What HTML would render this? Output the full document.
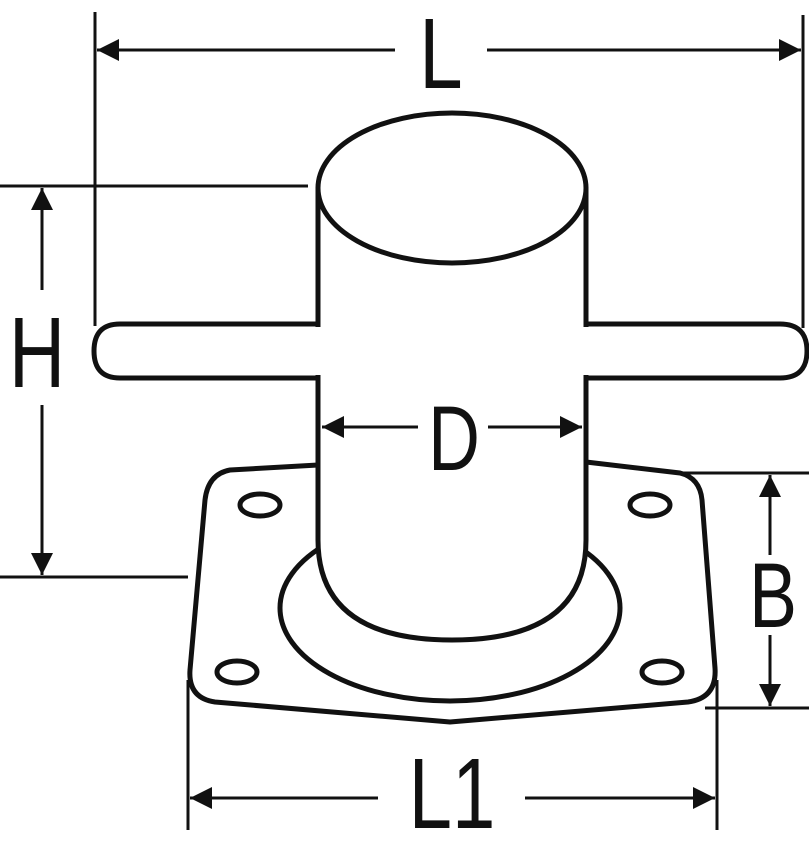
<!DOCTYPE html>
<html><head><meta charset="utf-8"><style>
html,body{margin:0;padding:0;background:#fff;}
svg{display:block;}
text{font-family:"Liberation Sans",sans-serif;fill:#111;}
</style></head><body>
<svg width="809" height="853" viewBox="0 0 809 853" xmlns="http://www.w3.org/2000/svg">
<defs>
<marker id="b" viewBox="0 0 10 10" refX="10" refY="5" markerWidth="46" markerHeight="22" markerUnits="userSpaceOnUse" orient="auto-start-reverse">
<path d="M0,0 L10,5 L0,10 z" fill="#111"/></marker>
</defs>
<g stroke="#111" stroke-width="3" fill="none">
<line x1="95" y1="12" x2="95" y2="326"/>
<line x1="803" y1="15" x2="803" y2="328"/>
<line x1="97" y1="50" x2="395" y2="50" marker-start="url(#b)"/>
<line x1="487" y1="50" x2="801" y2="50" marker-end="url(#b)"/>
<line x1="0" y1="186" x2="308" y2="186"/>
<line x1="0" y1="577" x2="188" y2="577"/>
<line x1="42" y1="188" x2="42" y2="290" marker-start="url(#b)"/>
<line x1="42" y1="405" x2="42" y2="575" marker-end="url(#b)"/>
<line x1="662" y1="473" x2="809" y2="473"/>
<line x1="705" y1="708" x2="809" y2="708"/>
<line x1="770" y1="475" x2="770" y2="555" marker-start="url(#b)"/>
<line x1="770" y1="635" x2="770" y2="706" marker-end="url(#b)"/>
<line x1="188" y1="680" x2="188" y2="830"/>
<line x1="717" y1="680" x2="717" y2="830"/>
<line x1="190" y1="798" x2="378" y2="798" marker-start="url(#b)"/>
<line x1="525" y1="798" x2="715" y2="798" marker-end="url(#b)"/>
</g>
<g stroke="#111" stroke-width="5" fill="#fff" stroke-linejoin="round">
<path d="M230,470 L318,465 L586,462 L680,473 Q700,478 702,500 L715,668 Q717,698 688,702 L450,722 L215,702 Q188,698 190,670 L205,500 Q208,474 230,470 Z"/>
<ellipse cx="450" cy="608" rx="170" ry="93"/>
<ellipse cx="260" cy="505" rx="20" ry="11"/>
<ellipse cx="650" cy="505" rx="20" ry="11"/>
<ellipse cx="237" cy="672" rx="20" ry="11"/>
<ellipse cx="662" cy="672" rx="20" ry="11"/>
<path d="M318,188 L318,540 Q318,640 452,640 Q586,640 586,540 L586,188 Z"/>
<path d="M120,324 L318,324 L318,378 L120,378 Q94,378 94,351 Q94,324 120,324 Z"/>
<path d="M586,324 L780,324 Q807,324 807,351 Q807,378 780,378 L586,378 Z"/>
<rect x="312" y="327" width="280" height="48" stroke="none"/>
<ellipse cx="452" cy="188" rx="134" ry="75"/>
</g>
<g stroke="#111" stroke-width="3" fill="none">
<line x1="322" y1="427" x2="418" y2="427" marker-start="url(#b)"/>
<line x1="488" y1="427" x2="582" y2="427" marker-end="url(#b)"/>
</g>
<g font-size="100" text-anchor="middle">
<text transform="translate(441,88) scale(0.78,1)">L</text>
<text transform="translate(37,387) scale(0.78,1)">H</text>
<text transform="translate(454,470) scale(0.78,1)" font-size="92">D</text>
<text transform="translate(773,627) scale(0.78,1)" font-size="92">B</text>
<text transform="translate(452,828) scale(0.78,1)">L1</text>
</g>
</svg>
</body></html>
